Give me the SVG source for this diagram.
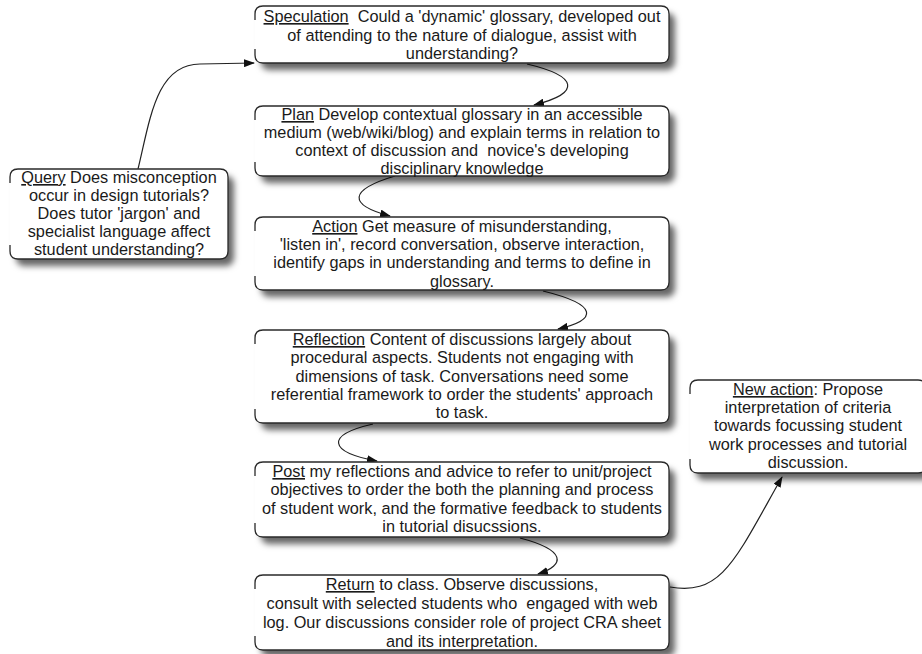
<svg xmlns="http://www.w3.org/2000/svg" width="922" height="654" viewBox="0 0 922 654">
<style>
.bg{fill:#fff;filter:url(#sh)}
.bd{fill:none;stroke:#2a2a2a;stroke-width:1.3}
text{font-family:"Liberation Sans",Arial,sans-serif;font-size:16.3px;fill:#1a1a1a;text-anchor:middle;white-space:pre}
.u{text-decoration:underline}
.c{fill:none;stroke:#222;stroke-width:1.2;marker-end:url(#ah)}
</style>
<defs>
<filter id="sh" x="-10%" y="-20%" width="130%" height="160%">
<feDropShadow dx="6" dy="7" stdDeviation="3.2" flood-color="#000" flood-opacity="0.6"/>
</filter>
<marker id="ah" markerWidth="11" markerHeight="8" refX="10" refY="4" orient="auto" markerUnits="userSpaceOnUse">
<path d="M0,0 L11,4 L0,8 Z" fill="#111"/>
</marker>
</defs>

<g id="connectors">
<path class="c" d="M138,169 C150,120 156,64 200,64 L254,63"/>
<path class="c" d="M527,64 C578,76 582,93 534,105"/>
<path class="c" d="M395,176 C348,190 348,205 390,216"/>
<path class="c" d="M543,291 C600,305 597,320 558,329"/>
<path class="c" d="M373,424 C325,435 328,452 377,461"/>
<path class="c" d="M520,538 C566,550 566,565 538,574"/>
<path class="c" d="M670,587 C722,596 735,560 782,477"/>
</g>

<g id="speculation">
<rect class="bg" x="255" y="6" width="414" height="57" rx="8"/>
<path class="bd" d="M255,20 V14 Q255,6 263,6 H661 Q669,6 669,14 V55 Q669,63 661,63 H263 Q255,63 255,55 V49"/>
<text x="462" y="22"><tspan class="u">Speculation</tspan>  Could a 'dynamic' glossary, developed out</text>
<text x="462" y="41">of attending to the nature of dialogue, assist with</text>
<text x="462" y="59">understanding?</text>
</g>

<g id="plan">
<rect class="bg" x="255" y="106" width="414" height="70" rx="8"/>
<path class="bd" d="M255,120 V114 Q255,106 263,106 H661 Q669,106 669,114 V168 Q669,176 661,176 H263 Q255,176 255,168 V162"/>
<text x="462" y="120"><tspan class="u">Plan</tspan> Develop contextual glossary in an accessible</text>
<text x="462" y="138">medium (web/wiki/blog) and explain terms in relation to</text>
<text x="462" y="156">context of discussion and  novice's developing</text>
<text x="462" y="174">disciplinary knowledge</text>
</g>

<g id="action">
<rect class="bg" x="255" y="217" width="414" height="73" rx="8"/>
<path class="bd" d="M255,231 V225 Q255,217 263,217 H661 Q669,217 669,225 V282 Q669,290 661,290 H263 Q255,290 255,282 V276"/>
<text x="462" y="232"><tspan class="u">Action</tspan> Get measure of misunderstanding,</text>
<text x="462" y="250">'listen in', record conversation, observe interaction,</text>
<text x="462" y="268">identify gaps in understanding and terms to define in</text>
<text x="462" y="287">glossary.</text>
</g>

<g id="reflection">
<rect class="bg" x="255" y="330" width="414" height="93" rx="8"/>
<path class="bd" d="M255,344 V338 Q255,330 263,330 H661 Q669,330 669,338 V415 Q669,423 661,423 H263 Q255,423 255,415 V409"/>
<text x="462" y="345"><tspan class="u">Reflection</tspan> Content of discussions largely about</text>
<text x="462" y="363">procedural aspects. Students not engaging with</text>
<text x="462" y="382">dimensions of task. Conversations need some</text>
<text x="462" y="400">referential framework to order the students' approach</text>
<text x="462" y="418">to task.</text>
</g>

<g id="post">
<rect class="bg" x="255" y="462" width="414" height="75" rx="8"/>
<path class="bd" d="M255,476 V470 Q255,462 263,462 H661 Q669,462 669,470 V529 Q669,537 661,537 H263 Q255,537 255,529 V523"/>
<text x="462" y="477"><tspan class="u">Post</tspan> my reflections and advice to refer to unit/project</text>
<text x="462" y="495">objectives to order the both the planning and process</text>
<text x="462" y="514">of student work, and the formative feedback to students</text>
<text x="462" y="532">in tutorial disucssions.</text>
</g>

<g id="return">
<rect class="bg" x="255" y="575" width="414" height="75" rx="8"/>
<path class="bd" d="M255,589 V583 Q255,575 263,575 H661 Q669,575 669,583 V642 Q669,650 661,650 H263 Q255,650 255,642 V636"/>
<text x="462" y="590"><tspan class="u">Return</tspan> to class. Observe discussions,</text>
<text x="462" y="609">consult with selected students who  engaged with web</text>
<text x="462" y="628">log. Our discussions consider role of project CRA sheet</text>
<text x="462" y="647">and its interpretation.</text>
</g>

<g id="query">
<rect class="bg" x="10" y="169" width="218" height="90" rx="8"/>
<path class="bd" d="M10,183 V177 Q10,169 18,169 H220 Q228,169 228,177 V251 Q228,259 220,259 H18 Q10,259 10,251 V245"/>
<text x="119" y="183"><tspan class="u">Query</tspan> Does misconception</text>
<text x="119" y="201">occur in design tutorials?</text>
<text x="119" y="219">Does tutor 'jargon' and</text>
<text x="119" y="237">specialist language affect</text>
<text x="119" y="255">student understanding?</text>
</g>

<g id="new-action">
<rect class="bg" x="690" y="380" width="236" height="93" rx="8"/>
<path class="bd" d="M690,394 V388 Q690,380 698,380 H918 Q926,380 926,388 V465 Q926,473 918,473 H698 Q690,473 690,465 V459"/>
<text x="808" y="395"><tspan class="u">New action</tspan>: Propose</text>
<text x="808" y="413">interpretation of criteria</text>
<text x="808" y="431">towards focussing student</text>
<text x="808" y="450">work processes and tutorial</text>
<text x="808" y="468">discussion.</text>
</g>
</svg>
